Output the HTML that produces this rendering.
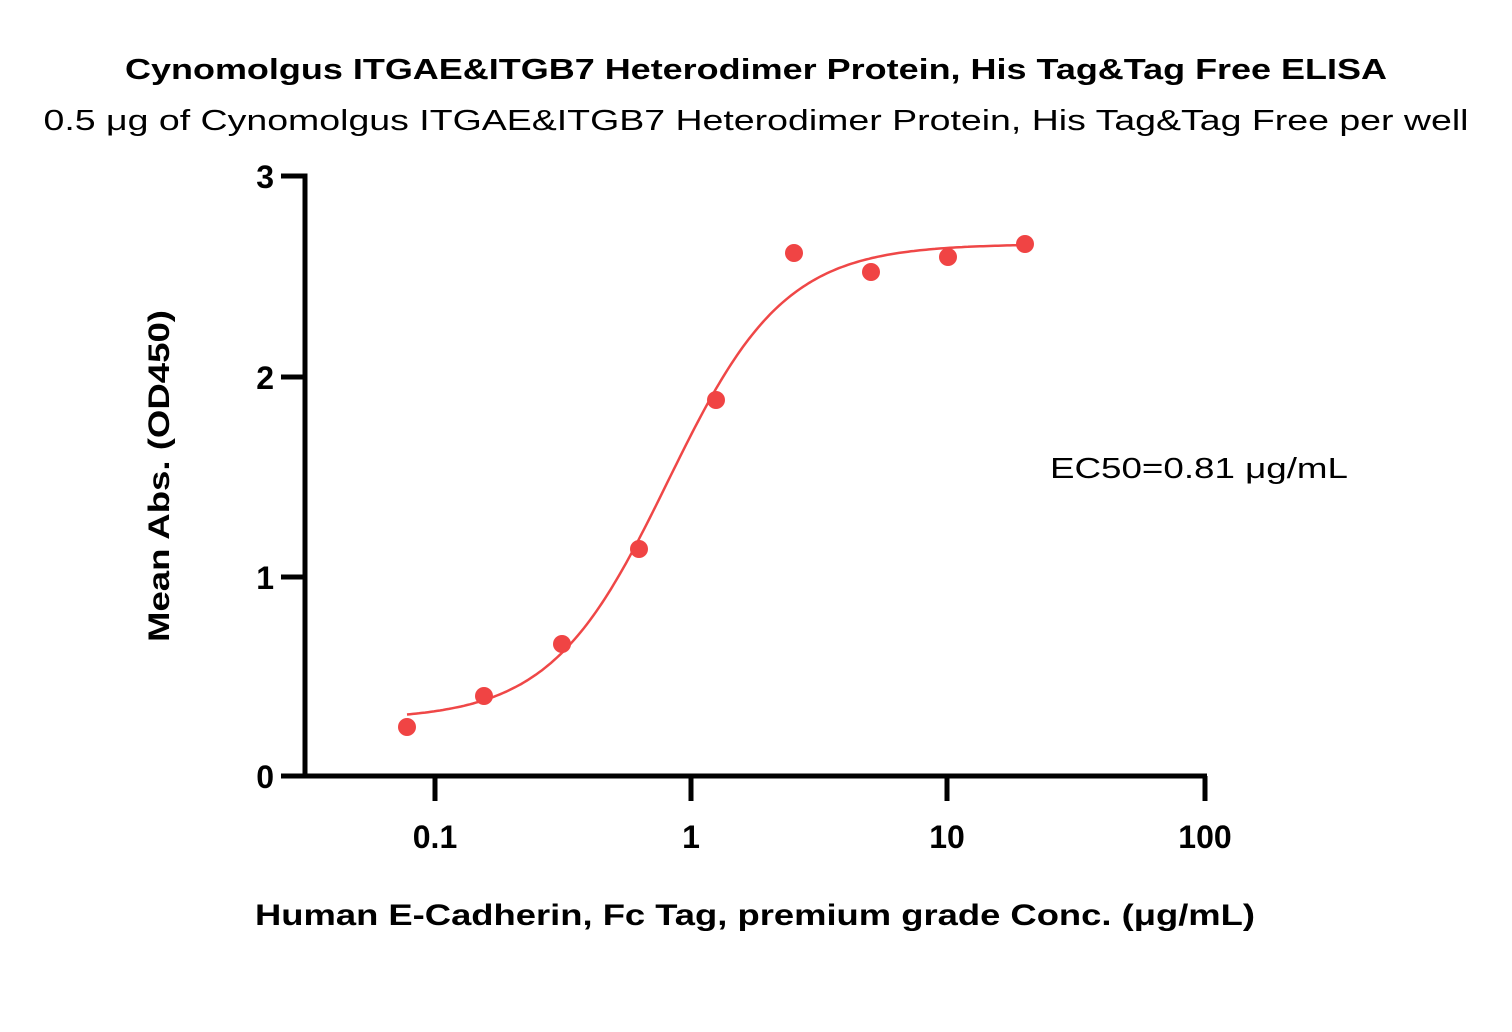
<!DOCTYPE html>
<html><head><meta charset="utf-8"><style>html,body{margin:0;padding:0;background:#fff}svg{display:block}</style></head>
<body>
<svg id="s" width="1512" height="1032" xmlns="http://www.w3.org/2000/svg" font-family="'Liberation Sans', sans-serif">
<text x="756" y="79" text-anchor="middle" font-weight="bold" font-size="29" textLength="1262" lengthAdjust="spacingAndGlyphs">Cynomolgus ITGAE&amp;ITGB7 Heterodimer Protein, His Tag&amp;Tag Free ELISA</text>
<text x="756" y="130" text-anchor="middle" font-size="29" textLength="1425" lengthAdjust="spacingAndGlyphs">0.5 μg of Cynomolgus ITGAE&amp;ITGB7 Heterodimer Protein, His Tag&amp;Tag Free per well</text>
<g stroke="#000" stroke-width="5" fill="none">
<line x1="305" y1="173.5" x2="305" y2="778.5"/>
<line x1="281" y1="176" x2="305" y2="176"/>
<line x1="281" y1="377" x2="305" y2="377"/>
<line x1="281" y1="577" x2="305" y2="577"/>
<line x1="281" y1="776" x2="1207" y2="776"/>
<line x1="435" y1="776" x2="435" y2="801"/>
<line x1="691" y1="776" x2="691" y2="801"/>
<line x1="947" y1="776" x2="947" y2="801"/>
<line x1="1205" y1="776" x2="1205" y2="801"/>
</g>
<g font-weight="bold" font-size="32" text-anchor="end">
<text x="274" y="188">3</text><text x="274" y="389">2</text><text x="274" y="589">1</text><text x="274" y="788">0</text>
</g>
<g font-weight="bold" font-size="32" text-anchor="middle">
<text x="435" y="848">0.1</text><text x="691" y="848">1</text><text x="947" y="848">10</text><text x="1205" y="848">100</text>
</g>
<text x="755" y="925" text-anchor="middle" font-weight="bold" font-size="30" textLength="1000" lengthAdjust="spacingAndGlyphs">Human E-Cadherin, Fc Tag, premium grade Conc. (μg/mL)</text>
<text transform="translate(169,476) rotate(-90)" text-anchor="middle" font-weight="bold" font-size="30" textLength="332" lengthAdjust="spacingAndGlyphs">Mean Abs. (OD450)</text>
<text x="1050" y="478" font-size="29" textLength="298" lengthAdjust="spacingAndGlyphs">EC50=0.81 μg/mL</text>
<path id="c" fill="none" stroke="#ef4747" stroke-width="2.5" d="M407,714"/>
<g fill="#f04444">
<circle cx="407" cy="727" r="9"/><circle cx="484" cy="696" r="9"/><circle cx="562" cy="644" r="9"/><circle cx="639" cy="549" r="9"/><circle cx="716" cy="400" r="9"/><circle cx="794" cy="253" r="9"/><circle cx="871" cy="272" r="9"/><circle cx="948" cy="257" r="9"/><circle cx="1025" cy="244" r="9"/>
</g>
</svg>
<script>
var d="";for(var x=407;x<=1025;x+=3){var c=Math.pow(10,(x-691)/256);var v=0.28+2.38/(1+Math.pow(0.81/c,1.9));var y=776-200*v;d+=(d?"L":"M")+x+","+y.toFixed(1);}
document.getElementById("c").setAttribute("d",d);
</script>
</body></html>
